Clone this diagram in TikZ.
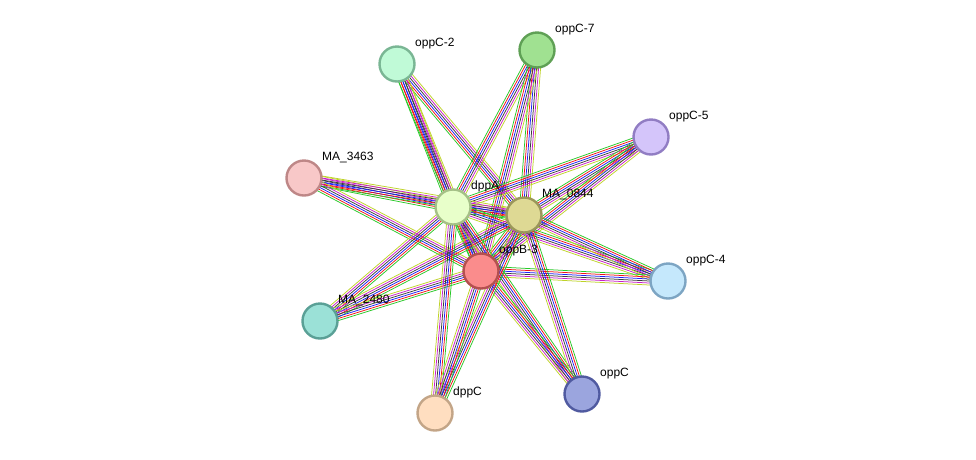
\documentclass[tikz,border=0pt]{standalone}
\usepackage{fontspec}
\setmainfont{Liberation Sans}
\usepackage{tikz}
\usetikzlibrary{calc,backgrounds}

% evidence colours
\definecolor{cnb}{RGB}{40,200,40}
\definecolor{cfu}{RGB}{240,20,20}
\definecolor{cco}{RGB}{30,30,245}
\definecolor{cex}{RGB}{60,60,60}
\definecolor{cexp}{RGB}{200,30,200}
\definecolor{ctm}{RGB}{190,210,40}

\tikzstyle{prot} = [circle, draw, line width=2.4pt, minimum size=35pt, inner sep=0pt]
\tikzstyle{lbl} = [anchor=base west, inner sep=0pt, font=\fontsize{12}{14}\selectfont]
\tikzstyle{ev} = [line width=0.75pt]

% one bundle of parallel evidence lines between two proteins
\newcommand{\bundle}[3]{%
  \foreach \c [count=\i] in {#3} {
    \pgfmathsetmacro\off{(\i-3.5)*2.0}
    \draw[ev, \c] ($(#1)!\off pt!90:(#2)$) -- ($(#2)!\off pt!-90:(#1)$);
  }%
}

\begin{document}
\begin{tikzpicture}[x=1pt,y=-1pt]
  \useasboundingbox (0,0) rectangle (976,459);

  \node[prot, fill={rgb,255:red,192;green,250;blue,215}, draw={rgb,255:red,122;green,182;blue,148}] (oppC2) at (397,64) {};
  \node[prot, fill={rgb,255:red,160;green,225;blue,145}, draw={rgb,255:red,95;green,160;blue,85}] (oppC7) at (537,50) {};
  \node[prot, fill={rgb,255:red,212;green,197;blue,250}, draw={rgb,255:red,145;green,125;blue,195}] (oppC5) at (651,137) {};
  \node[prot, fill={rgb,255:red,248;green,200;blue,200}, draw={rgb,255:red,190;green,135;blue,135}] (ma3463) at (304,178) {};
  \node[prot, fill={rgb,255:red,232;green,255;blue,202}, draw={rgb,255:red,165;green,192;blue,135}] (dppA) at (453,207) {};
  \node[prot, fill={rgb,255:red,222;green,217;blue,148}, draw={rgb,255:red,155;green,150;blue,90}] (ma0844) at (524,215) {};
  \node[prot, fill={rgb,255:red,250;green,140;blue,140}, draw={rgb,255:red,180;green,80;blue,80}] (oppB3) at (481,271) {};
  \node[prot, fill={rgb,255:red,197;green,232;blue,252}, draw={rgb,255:red,125;green,165;blue,195}] (oppC4) at (668,281) {};
  \node[prot, fill={rgb,255:red,155;green,225;blue,215}, draw={rgb,255:red,90;green,160;blue,150}] (ma2480) at (320,321) {};
  \node[prot, fill={rgb,255:red,155;green,165;blue,222}, draw={rgb,255:red,80;green,90;blue,160}] (oppC) at (582,394) {};
  \node[prot, fill={rgb,255:red,255;green,222;blue,192}, draw={rgb,255:red,195;green,165;blue,135}] (dppC) at (435,413) {};

  \node[lbl] (oppC2-l) at ([shift={(18pt,18pt)}]oppC2.center) {oppC-2};
  \node[lbl] (oppC7-l) at ([shift={(18pt,18pt)}]oppC7.center) {oppC-7};
  \node[lbl] (oppC5-l) at ([shift={(18pt,18pt)}]oppC5.center) {oppC-5};
  \node[lbl] (ma3463-l) at ([shift={(18pt,18pt)}]ma3463.center) {MA\_3463};
  \node[lbl] (dppA-l) at ([shift={(18pt,18pt)}]dppA.center) {dppA};
  \node[lbl] (ma0844-l) at ([shift={(18pt,18pt)}]ma0844.center) {MA\_0844};
  \node[lbl] (oppB3-l) at ([shift={(18pt,18pt)}]oppB3.center) {oppB-3};
  \node[lbl] (oppC4-l) at ([shift={(18pt,18pt)}]oppC4.center) {oppC-4};
  \node[lbl] (ma2480-l) at ([shift={(18pt,18pt)}]ma2480.center) {MA\_2480};
  \node[lbl] (oppC-l) at ([shift={(18pt,18pt)}]oppC.center) {oppC};
  \node[lbl] (dppC-l) at ([shift={(18pt,18pt)}]dppC.center) {dppC};

  \begin{scope}[on background layer]
    \bundle{dppA}{ma0844}{cnb,cfu,cco,cex,cexp,ctm}
    \bundle{dppA}{oppB3}{cnb,cfu,cco,cex,cexp,ctm}
    \bundle{ma0844}{oppB3}{cnb,cfu,cco,cex,cexp,ctm}
    \foreach \p in {oppC2,oppC7,oppC5,ma3463,oppC4,ma2480,oppC,dppC} {
      \bundle{\p}{dppA}{cnb,cfu,cco,cex,cexp,ctm}
      \bundle{\p}{ma0844}{cnb,cfu,cco,cex,cexp,ctm}
      \bundle{\p}{oppB3}{cnb,cfu,cco,cex,cexp,ctm}
    }
  \end{scope}
\end{tikzpicture}
\end{document}
